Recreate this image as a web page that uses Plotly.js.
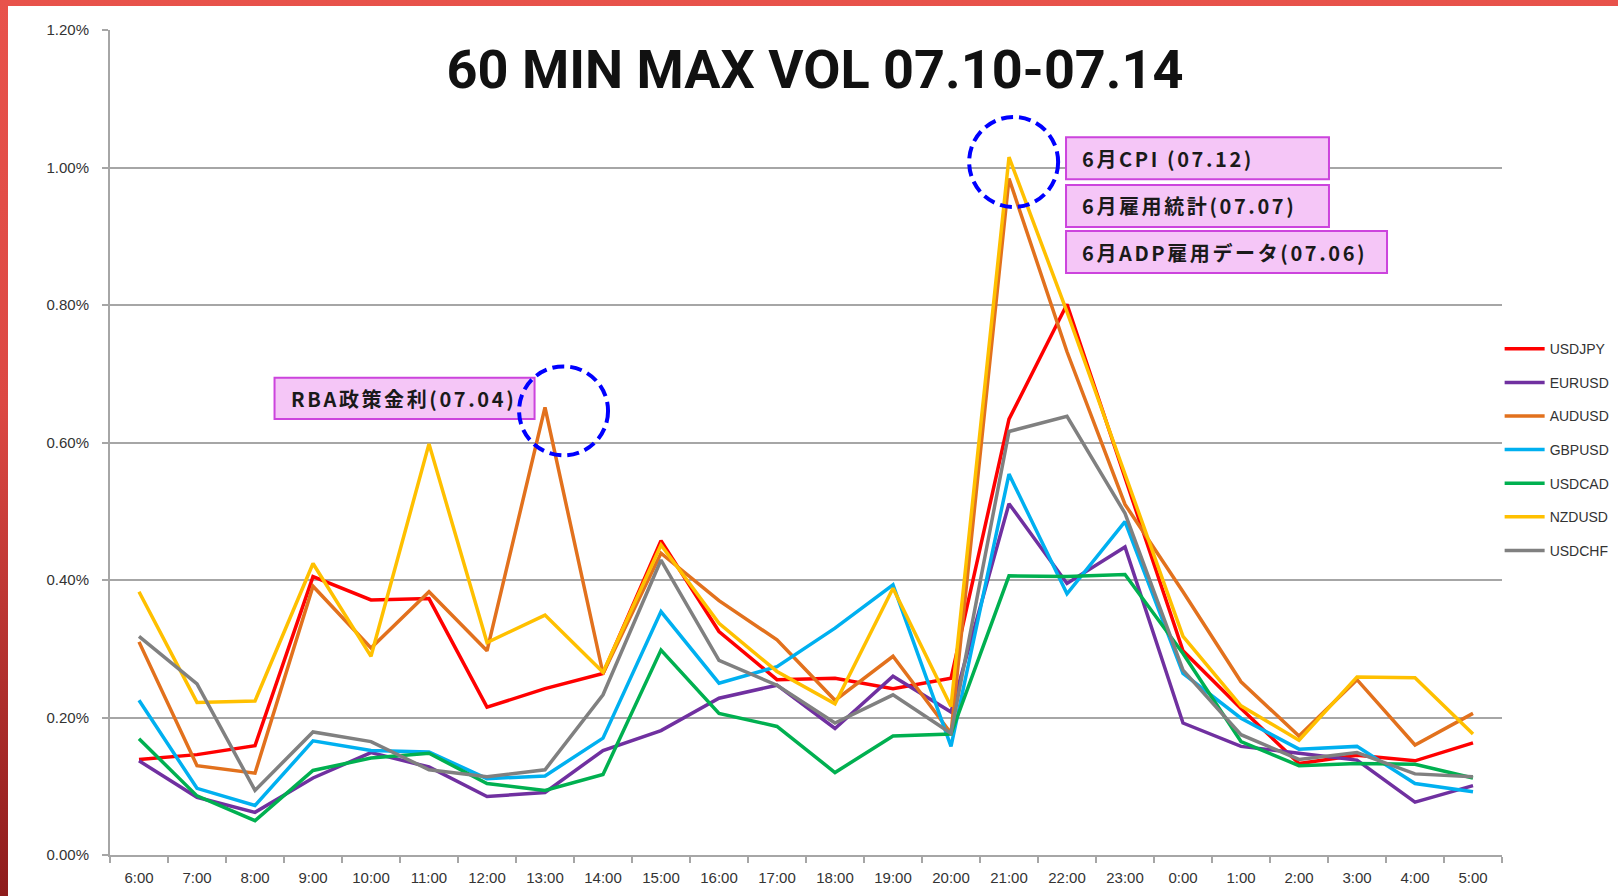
<!DOCTYPE html>
<html>
<head>
<meta charset="utf-8">
<script src="https://cdn.plot.ly/plotly-3.0.1.min.js"></script>
<style>
  html, body { margin: 0; padding: 0; }
  #frame { position: relative; width: 1618px; height: 896px;
    background: linear-gradient(to bottom, #e8524b 0%, #dc4843 45%, #8e1c1c 100%); overflow: hidden; }
  #chart { position: absolute; left: 8px; top: 6px; width: 1610px; height: 890px; background: #fff; }
  .annotation-text { letter-spacing: 2.6px; }
</style>
</head>
<body>
<div id="frame"><div id="chart"></div></div>
<script>
const hours = ['6:00','7:00','8:00','9:00','10:00','11:00','12:00','13:00','14:00','15:00','16:00','17:00',
  '18:00','19:00','20:00','21:00','22:00','23:00','0:00','1:00','2:00','3:00','4:00','5:00'];

const USDJPY = [0.139,0.146,0.159,0.405,0.371,0.373,0.215,0.242,0.264,0.457,0.325,0.255,0.257,0.242,0.257,0.634,0.801,0.550,0.297,0.213,0.133,0.145,0.137,0.163];
const EURUSD = [0.137,0.084,0.062,0.112,0.149,0.128,0.085,0.091,0.152,0.181,0.228,0.247,0.184,0.260,0.208,0.511,0.395,0.448,0.192,0.158,0.148,0.138,0.077,0.101];
const AUDUSD = [0.310,0.130,0.119,0.391,0.301,0.383,0.297,0.651,0.264,0.439,0.370,0.313,0.225,0.289,0.177,0.984,0.732,0.510,0.383,0.252,0.173,0.255,0.160,0.206];
const GBPUSD = [0.225,0.097,0.072,0.166,0.152,0.150,0.111,0.115,0.170,0.354,0.250,0.274,0.330,0.393,0.158,0.554,0.380,0.485,0.264,0.199,0.154,0.158,0.104,0.092];
const USDCAD = [0.169,0.086,0.050,0.123,0.141,0.148,0.104,0.094,0.117,0.298,0.206,0.187,0.120,0.173,0.176,0.406,0.405,0.408,0.293,0.165,0.130,0.133,0.132,0.112];
const NZDUSD = [0.383,0.222,0.224,0.424,0.289,0.598,0.309,0.349,0.266,0.451,0.337,0.267,0.220,0.388,0.216,1.015,0.790,0.555,0.318,0.217,0.167,0.259,0.258,0.176];
const USDCHF = [0.318,0.249,0.094,0.179,0.165,0.124,0.114,0.124,0.233,0.429,0.283,0.247,0.192,0.233,0.177,0.616,0.638,0.497,0.269,0.175,0.139,0.149,0.118,0.114];

const seriesNames = ['USDJPY','EURUSD','AUDUSD','GBPUSD','USDCAD','NZDUSD','USDCHF'];
const seriesValues = [USDJPY, EURUSD, AUDUSD, GBPUSD, USDCAD, NZDUSD, USDCHF];
const seriesColors = ['#ff0000','#7030a0','#e2711d','#00b0f0','#00b050','#ffc000','#808080'];

const titleText = '60 MIN MAX VOL 07.10-07.14';
const eventLabels = ['RBA政策金利(07.04)','6月CPI (07.12)','6月雇用統計(07.07)','6月ADP雇用データ(07.06)'];

const traces = seriesNames.map((n, i) => ({
  type: 'scatter', mode: 'lines', name: n, x: hours, y: seriesValues[i],
  line: {color: seriesColors[i], width: 3.5}, legendgroup: 'g' + i
}));

const boxFill = '#f5c6f7', boxLine = '#cc44dd';
const gridCol = '#a6a6a6';

const boxes = [
  {x0: 0.1182, x1: 0.3050, y0: 0.5285, y1: 0.5785},
  {x0: 0.6868, x1: 0.8757, y0: 0.8190, y1: 0.8699},
  {x0: 0.6868, x1: 0.8757, y0: 0.7612, y1: 0.8121},
  {x0: 0.6868, x1: 0.9174, y0: 0.7055, y1: 0.7564}
];
const textPos = [
  {x: 0.1286, y: 0.5535},
  {x: 0.6968, y: 0.8445},
  {x: 0.6968, y: 0.7867},
  {x: 0.6968, y: 0.7309}
];

const shapes = boxes.map(b => ({
  type: 'rect', xref: 'paper', yref: 'paper', x0: b.x0, x1: b.x1, y0: b.y0, y1: b.y1,
  fillcolor: boxFill, line: {color: boxLine, width: 2}, layer: 'above'
}));
// dashed highlight circles
shapes.push({type: 'circle', xref: 'x', yref: 'y', x0: 7.32 - 0.767, x1: 7.32 + 0.767, y0: 0.646 - 0.0647, y1: 0.646 + 0.0647,
  line: {color: '#0000ff', width: 4, dash: '12px,6px'}, layer: 'above'});
shapes.push({type: 'circle', xref: 'x', yref: 'y', x0: 15.08 - 0.767, x1: 15.08 + 0.767, y0: 1.008 - 0.0655, y1: 1.008 + 0.0655,
  line: {color: '#0000ff', width: 4, dash: '12px,6px'}, layer: 'above'});

const annotations = eventLabels.map((t, i) => ({
  text: t, xref: 'paper', yref: 'paper', x: textPos[i].x, y: textPos[i].y,
  xanchor: 'left', yanchor: 'middle', showarrow: false,
  font: {family: 'Noto Sans CJK JP', size: 20, color: '#1a1a1a', weight: 'bold'}
}));

const layout = {
  width: 1610, height: 890,
  margin: {l: 102, r: 116, t: 24, b: 41, autoexpand: false},
  paper_bgcolor: '#ffffff', plot_bgcolor: '#ffffff',
  title: {text: titleText, xref: 'container', yref: 'container', x: 807/1610, xanchor: 'center',
    y: 1 - 63/890, yanchor: 'middle',
    font: {family: 'Roboto', size: 54, color: '#111111', weight: 'bold'}},
  xaxis: {type: 'category', range: [-0.5, 23.5], showgrid: false, showline: true, linecolor: gridCol, linewidth: 2,
    ticks: 'outside', tickson: 'boundaries', ticklen: 6, tickcolor: gridCol, tickwidth: 2, automargin: false,
    ticklabelstandoff: 8, tickfont: {family: 'Liberation Sans', size: 15, color: '#333333'}, fixedrange: true},
  yaxis: {range: [0, 1.2], dtick: 0.2, tickformat: '.2f', ticksuffix: '%', showgrid: true, gridcolor: gridCol, gridwidth: 2,
    zeroline: false, showline: true, linecolor: gridCol, linewidth: 2, ticks: 'outside', ticklen: 6, tickcolor: gridCol, tickwidth: 2,
    automargin: false, ticklabelstandoff: 10, tickfont: {family: 'Liberation Sans', size: 15, color: '#333333'}, fixedrange: true},
  legend: {x: 0.9983, xanchor: 'left', y: 0.6325, yanchor: 'top', traceorder: 'grouped', tracegroupgap: 12.4,
    itemwidth: 40, bgcolor: 'rgba(0,0,0,0)', font: {family: 'Liberation Sans', size: 14, color: '#333333'}},
  showlegend: true,
  shapes: shapes,
  annotations: annotations
};

Plotly.newPlot('chart', traces, layout, {staticPlot: true, displayModeBar: false});
</script>
</body>
</html>
